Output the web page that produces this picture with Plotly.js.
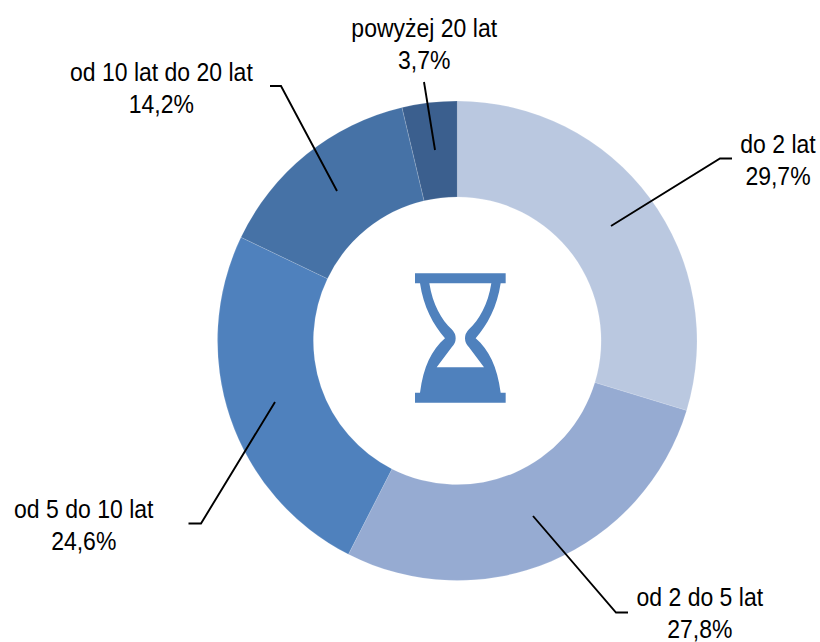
<!DOCTYPE html>
<html><head><meta charset="utf-8">
<script src="https://cdn.plot.ly/plotly-3.0.1.min.js"></script>
<style>html,body{margin:0;padding:0;background:#fff}#c{width:820px;height:642px}</style></head>
<body><div id="c"></div>
<script>
const categories = ["do 2 lat","od 2 do 5 lat","od 5 do 10 lat","od 10 lat do 20 lat","powyżej 20 lat"];
const values = [29.7,27.8,24.6,14.2,3.7];
const valueLabels = ["29,7%","27,8%","24,6%","14,2%","3,7%"];
const colors = ["#BAC8E0","#96ABD2","#4F81BD","#4672A6","#3B5F8E"];
const labelAnchors = [[777.5,160],[699.5,613],[83.5,525],[161,88],[424,44.5]];
const leaders = [
  [[732,158.5],[720,158.5],[611,226]],
  [[628,612.5],[616,612.5],[533,516]],
  [[188.5,523.5],[201,523.5],[275,402]],
  [[270,86],[281,86],[337,191]],
  [[424,82],[435,150]]
];
const W=820,H=642;
const px=x=>x/W, py=y=>1-y/H;
const FONT='"Liberation Sans",Arial,sans-serif';

function zoomPath(d){ // hourglass outline written in a 3x crop frame at (390,250)
  return d.replace(/(-?[\d.]+),(-?[\d.]+)/g,(m,a,b)=>px(390+a/3).toFixed(5)+','+py(250+b/3).toFixed(5));
}
const hgOuter=zoomPath('M75,70 L347,70 L347,100 L332,100 C322,170 292,225 257,265 C297,300 322,350 332,428 L347,428 L347,458 L75,458 L75,428 L90,428 C100,350 125,300 165,265 C130,225 100,170 90,100 L75,100 Z');
const hgInner=zoomPath('M118,100 L304,100 C294,165 267,210 237,238 Q225,250 225,265 Q225,280 237,292 L282,352 L140,352 L185,292 Q197,280 197,265 Q197,250 185,238 C155,210 128,165 118,100 Z');

const shapes=leaders.map(pts=>({type:'path',xref:'paper',yref:'paper',
  path:'M'+pts.map(p=>px(p[0]).toFixed(5)+','+py(p[1]).toFixed(5)).join(' L'),
  line:{color:'#000',width:1.9},fillcolor:'rgba(0,0,0,0)'}));
shapes.push({type:'path',xref:'paper',yref:'paper',path:hgOuter,fillcolor:'#4F81BD',line:{width:0}});
shapes.push({type:'path',xref:'paper',yref:'paper',path:hgInner,fillcolor:'#FFFFFF',line:{width:0}});

const annotations=categories.map((c,i)=>({xref:'paper',yref:'paper',
  x:px(labelAnchors[i][0]),y:py(labelAnchors[i][1]),xanchor:'center',yanchor:'middle',showarrow:false,align:'center',
  text:c+'<br>'+valueLabels[i],font:{family:FONT,size:25,color:'#000'}}));

Plotly.newPlot('c',[{type:'pie',labels:categories,values:values,hole:0.6,sort:false,direction:'clockwise',rotation:0,
  marker:{colors:colors,line:{color:'rgba(255,255,255,0.15)',width:1}},textinfo:'none',hoverinfo:'label+percent',
  domain:{x:[217.5/W,697/W],y:[1-580.5/H,1-101/H]}}],
 {width:W,height:H,margin:{l:0,r:0,t:0,b:0,pad:0},showlegend:false,paper_bgcolor:'#fff',shapes,annotations},
 {displayModeBar:false,staticPlot:true}).then(gd=>{
  // the original face is a condensed sans: narrow the real text about its own centre
  gd.querySelectorAll('.annotation-text').forEach(t=>{
    const b=t.getBBox(), cx=b.x+b.width/2;
    t.setAttribute('transform',`translate(${cx},0) scale(0.92,1) translate(${-cx},0)`);
  });
 });
</script></body></html>
